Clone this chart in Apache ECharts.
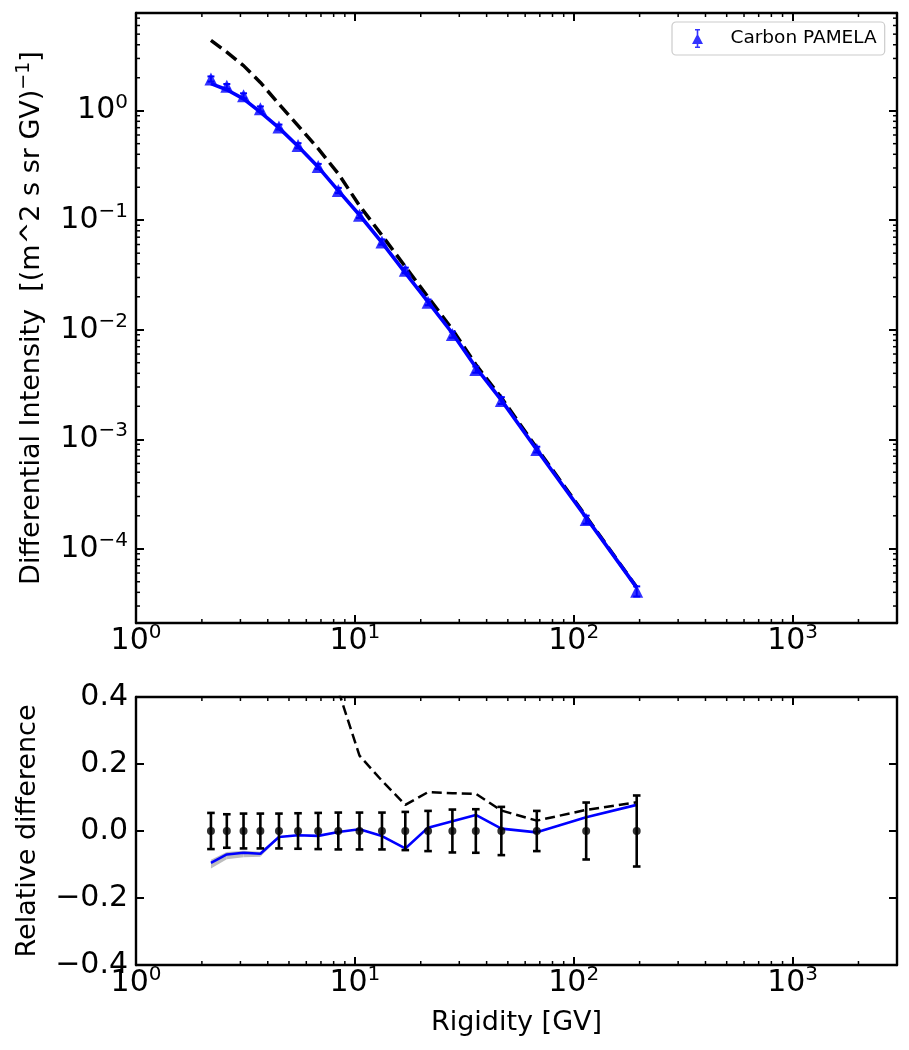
<!DOCTYPE html>
<html>
<head>
<meta charset="utf-8">
<script src="https://cdn.jsdelivr.net/npm/echarts@6/dist/echarts.min.js"></script>
<style>
html, body { margin: 0; padding: 0; background: #fff; }
#chart { width: 909px; height: 1050px; }
</style>
</head>
<body>
<div id="chart"></div>
<script>
// rigidity bins of the PAMELA carbon data [GV]
var rigidity = [2.2, 2.6, 3.1, 3.7, 4.5, 5.5, 6.8, 8.4, 10.5, 13.3, 17.0, 21.6, 27.9, 35.7, 46.7, 67.8, 114, 194];
// differential intensity [(m^2 s sr GV)^-1]
var pamelaFlux = [1.95, 1.67, 1.37, 1.04, 0.71, 0.48, 0.31, 0.187, 0.111, 0.0633, 0.0349, 0.0178, 0.00903, 0.00433, 0.00226, 0.000806, 0.000185, 0.000041];
// relative errors
var pamelaErr = [0.054, 0.050, 0.052, 0.052, 0.052, 0.053, 0.054, 0.055, 0.055, 0.055, 0.057, 0.060, 0.064, 0.065, 0.072, 0.060, 0.085, 0.106];
var modelFlux = [1.765, 1.553, 1.281, 0.969, 0.697, 0.474, 0.3055, 0.1864, 0.1116, 0.0624, 0.0331, 0.01798, 0.00929, 0.00454, 0.002276, 0.000803, 0.0001926, 0.0000442];
var dashedFlux = [4.39, 3.42, 2.58, 1.81, 1.15, 0.73, 0.45, 0.266, 0.136, 0.0728, 0.0376, 0.0199, 0.01005, 0.00481, 0.0024, 0.000831, 0.000197, 0.0000445];

// lower panel: relative differences
var pamelaRel = [0, 0, 0, 0, 0, 0, 0, 0, 0, 0, 0, 0, 0, 0, 0, 0, 0, 0];
var modelRel = [-0.095, -0.070, -0.065, -0.068, -0.018, -0.0125, -0.0145, -0.003, 0.005, -0.015, -0.052, 0.010, 0.029, 0.048, 0.007, -0.004, 0.041, 0.078];
var dashedRel = [1.25, 1.05, 0.88, 0.74, 0.62, 0.52, 0.45, 0.42, 0.225, 0.15, 0.078, 0.116, 0.113, 0.111, 0.061, 0.031, 0.063, 0.086];
var bandRigidity = [2.2, 2.6, 3.1, 3.7, 4.5];
var bandLow = [-0.112, -0.084, -0.078, -0.077, -0.021];
var bandHigh = [-0.086, -0.063, -0.059, -0.062, -0.016];

// minor tick positions of the log axes
var xMinorTicks = [2, 3, 4, 5, 6, 7, 8, 9, 20, 30, 40, 50, 60, 70, 80, 90, 200, 300, 400, 500, 600, 700, 800, 900, 2000];
var yMinorTicks = [3e-5, 4e-5, 5e-5, 6e-5, 7e-5, 8e-5, 9e-5,
    2e-4, 3e-4, 4e-4, 5e-4, 6e-4, 7e-4, 8e-4, 9e-4,
    2e-3, 3e-3, 4e-3, 5e-3, 6e-3, 7e-3, 8e-3, 9e-3,
    2e-2, 3e-2, 4e-2, 5e-2, 6e-2, 7e-2, 8e-2, 9e-2,
    0.2, 0.3, 0.4, 0.5, 0.6, 0.7, 0.8, 0.9,
    2, 3, 4, 5, 6, 7];

var FONT = 'DejaVu Sans';

function pair(xs, ys) {
    return xs.map(function (x, i) { return [x, ys[i]]; });
}

function powLabel(v) {
    var lg = Math.log10(v);
    var e = Math.round(lg);
    if (Math.abs(lg - e) > 1e-6) return '';
    return '{b|10}{s|' + String(e).replace('-', '\u2212') + '}';
}

function decLabel(v) {
    return '{b|' + (v < -1e-9 ? '\u2212' : '') + Math.abs(v).toFixed(1) + '}';
}

var tickRich = {
    b: { fontSize: 30, lineHeight: 30, fontFamily: FONT, color: '#000' },
    s: { fontSize: 20, lineHeight: 20, padding: [0, 0, 16, 0], fontFamily: FONT, color: '#000' }
};

var lineBlack = { color: '#000', width: 2.4 };

function axisBase(extra) {
    var a = {
        axisLine: { show: true, onZero: false, lineStyle: lineBlack },
        axisTick: { show: true, inside: true, length: 8, lineStyle: { color: '#000', width: 2 } },
        splitLine: { show: false },
        minorTick: { show: false },
        nameMoveOverlap: false
    };
    for (var k in extra) a[k] = extra[k];
    return a;
}

// error bars; log = true: value +- relative error, else value +- absolute
function errorBars(color, capHalf, width, log) {
    return function (params, api) {
        var x = api.value(0), y = api.value(1), e = api.value(2);
        var lo = log ? y * (1 - e) : y - e;
        var hi = log ? y * (1 + e) : y + e;
        var p1 = api.coord([x, lo]);
        var p2 = api.coord([x, hi]);
        var st = { stroke: color, lineWidth: width };
        return {
            type: 'group',
            children: [
                { type: 'line', shape: { x1: p1[0], y1: p1[1], x2: p2[0], y2: p2[1] }, style: st },
                { type: 'line', shape: { x1: p1[0] - capHalf, y1: p1[1], x2: p1[0] + capHalf, y2: p1[1] }, style: st },
                { type: 'line', shape: { x1: p2[0] - capHalf, y1: p2[1], x2: p2[0] + capHalf, y2: p2[1] }, style: st }
            ]
        };
    };
}

function xMinorRender(yRef) {
    return function (params, api) {
        var cs = params.coordSys;
        var px = api.coord([api.value(0), yRef])[0];
        var st = { stroke: '#000', lineWidth: 1.5 };
        return {
            type: 'group',
            children: [
                { type: 'line', shape: { x1: px, y1: cs.y + cs.height, x2: px, y2: cs.y + cs.height - 4 }, style: st },
                { type: 'line', shape: { x1: px, y1: cs.y, x2: px, y2: cs.y + 4 }, style: st }
            ]
        };
    };
}

function yMinorRender(params, api) {
    var cs = params.coordSys;
    var py = api.coord([10, api.value(1)])[1];
    var st = { stroke: '#000', lineWidth: 1.5 };
    return {
        type: 'group',
        children: [
            { type: 'line', shape: { x1: cs.x, y1: py, x2: cs.x + 4, y2: py }, style: st },
            { type: 'line', shape: { x1: cs.x + cs.width, y1: py, x2: cs.x + cs.width - 4, y2: py }, style: st }
        ]
    };
}

function bandRender(params, api) {
    var i = params.dataIndex;
    if (i >= bandRigidity.length - 1) return null;
    var pts = [
        api.coord([bandRigidity[i], bandLow[i]]),
        api.coord([bandRigidity[i + 1], bandLow[i + 1]]),
        api.coord([bandRigidity[i + 1], bandHigh[i + 1]]),
        api.coord([bandRigidity[i], bandHigh[i]])
    ];
    return { type: 'polygon', shape: { points: pts }, style: { fill: '#bdbdbd' } };
}

var legendIcon = 'path://M3,0H8V1.6H3Z M4.7,0H6.3V19H4.7Z M3,17.4H8V19H3Z M0,15L5.5,4.5L11,15Z';

var chart = echarts.init(document.getElementById('chart'));
chart.setOption({
    animation: false,
    backgroundColor: '#fff',
    textStyle: { fontFamily: FONT },
    grid: [
        { left: 136, top: 13, width: 761, height: 610, outerBoundsMode: 'none', containLabel: false },
        { left: 136, top: 697, width: 761, height: 268, outerBoundsMode: 'none', containLabel: false }
    ],
    legend: {
        left: 672, top: 22,
        padding: [7, 8, 7, 20],
        backgroundColor: '#fff',
        borderColor: '#cccccc', borderWidth: 1.2, borderRadius: 4,
        itemWidth: 12, itemHeight: 19,
        selectedMode: false,
        formatter: function (name) { return '{t|' + name + '}'; },
        textStyle: {
            rich: { t: { fontSize: 18.5, fontFamily: FONT, color: '#000', padding: [0, 0, 0, 22] } }
        },
        data: [{ name: 'Carbon PAMELA', icon: legendIcon }]
    },
    xAxis: [
        axisBase({ type: 'log', gridIndex: 0, position: 'bottom', min: 1, max: 3000,
            axisLabel: { show: true, margin: 3, formatter: powLabel, rich: tickRich } }),
        axisBase({ type: 'log', gridIndex: 0, position: 'top', min: 1, max: 3000,
            axisLabel: { show: false } }),
        axisBase({ type: 'log', gridIndex: 1, position: 'bottom', min: 1, max: 3000,
            axisLabel: { show: true, margin: 3, formatter: powLabel, rich: tickRich },
            name: 'Rigidity [GV]', nameLocation: 'middle', nameGap: 44,
            nameTextStyle: { fontSize: 27, fontFamily: FONT, color: '#000', lineHeight: 28 } }),
        axisBase({ type: 'log', gridIndex: 1, position: 'top', min: 1, max: 3000,
            axisLabel: { show: false } })
    ],
    yAxis: [
        axisBase({ type: 'log', gridIndex: 0, position: 'left', min: 2.1e-5, max: 7.8,
            axisLabel: { show: true, margin: 8, formatter: powLabel, rich: tickRich },
            name: 'Differential Intensity  [(m^2 s sr GV){s|\u22121}]',
            nameLocation: 'middle', nameRotate: 90, nameGap: 91,
            nameTextStyle: { fontSize: 27, fontFamily: FONT, color: '#000', lineHeight: 27,
                rich: { s: { fontSize: 19, lineHeight: 19, padding: [0, 0, 14, 0], fontFamily: FONT, color: '#000' } } } }),
        axisBase({ type: 'log', gridIndex: 0, position: 'right', min: 2.1e-5, max: 7.8,
            axisLabel: { show: false } }),
        axisBase({ type: 'value', gridIndex: 1, position: 'left', min: -0.4, max: 0.4, interval: 0.2,
            axisLabel: { show: true, margin: 8, formatter: decLabel, rich: tickRich },
            name: 'Relative difference', nameLocation: 'middle', nameRotate: 90, nameGap: 95,
            nameTextStyle: { fontSize: 27, fontFamily: FONT, color: '#000', lineHeight: 27 } }),
        axisBase({ type: 'value', gridIndex: 1, position: 'right', min: -0.4, max: 0.4, interval: 0.2,
            axisLabel: { show: false } })
    ],
    series: [
        // upper panel
        {
            type: 'custom', xAxisIndex: 0, yAxisIndex: 0, silent: true,
            data: xMinorTicks.map(function (v) { return [v, 1]; }),
            renderItem: xMinorRender(1)
        },
        {
            type: 'custom', xAxisIndex: 0, yAxisIndex: 0, silent: true,
            data: yMinorTicks.map(function (v) { return [10, v]; }),
            renderItem: yMinorRender
        },
        {
            name: 'dashed', type: 'line', xAxisIndex: 0, yAxisIndex: 0,
            data: pair(rigidity, dashedFlux), symbol: 'none',
            lineStyle: { color: '#000', width: 3.5, type: [13, 6] }, z: 2
        },
        {
            name: 'model', type: 'line', xAxisIndex: 0, yAxisIndex: 0,
            data: pair(rigidity, modelFlux), symbol: 'none',
            lineStyle: { color: '#0000ff', width: 3.6 }, z: 3
        },
        {
            name: 'Carbon PAMELA', type: 'scatter', xAxisIndex: 0, yAxisIndex: 0,
            data: pair(rigidity, pamelaFlux), symbol: 'triangle', symbolSize: 13,
            itemStyle: { color: '#0000ff' }, z: 4
        },
        {
            type: 'custom', xAxisIndex: 0, yAxisIndex: 0, silent: true,
            data: rigidity.map(function (r, i) { return [r, pamelaFlux[i], pamelaErr[i]]; }),
            renderItem: errorBars('#0000ff', 3.5, 2, true), z: 5
        },
        // lower panel
        {
            type: 'custom', xAxisIndex: 2, yAxisIndex: 2, silent: true,
            data: xMinorTicks.map(function (v) { return [v, 0]; }),
            renderItem: xMinorRender(0)
        },
        {
            type: 'custom', xAxisIndex: 2, yAxisIndex: 2, silent: true,
            data: bandRigidity.map(function (r, i) { return [r, bandLow[i], bandHigh[i]]; }),
            renderItem: bandRender, z: 1
        },
        {
            type: 'line', xAxisIndex: 2, yAxisIndex: 2,
            data: pair(rigidity, dashedRel), symbol: 'none', clip: true,
            lineStyle: { color: '#000', width: 2.5, type: [10, 5] }, z: 2
        },
        {
            type: 'line', xAxisIndex: 2, yAxisIndex: 2,
            data: pair(rigidity, modelRel), symbol: 'none', clip: true,
            lineStyle: { color: '#0000ff', width: 2.6 }, z: 3
        },
        {
            type: 'custom', xAxisIndex: 2, yAxisIndex: 2, silent: true,
            data: rigidity.map(function (r, i) { return [r, pamelaRel[i], pamelaErr[i]]; }),
            renderItem: errorBars('#000', 3.8, 2.6, false), z: 4
        },
        {
            type: 'scatter', xAxisIndex: 2, yAxisIndex: 2,
            data: pair(rigidity, pamelaRel), symbol: 'circle', symbolSize: 8,
            itemStyle: { color: '#000' }, z: 5
        }
    ]
});
</script>
</body>
</html>
